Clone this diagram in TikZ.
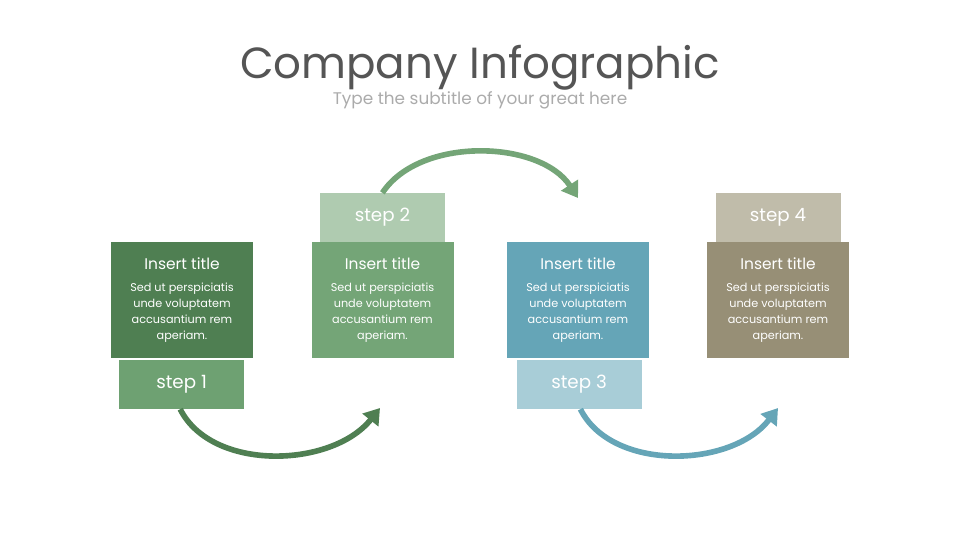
\documentclass[tikz,border=0pt]{standalone}
\usepackage{fontspec}
\setmainfont{Poppins}
\usepackage{tikz}
\usetikzlibrary{arrows.meta, positioning}
\definecolor{colorStepA}{HTML}{4F7F52}
\definecolor{colorStepB}{HTML}{74A577}
\definecolor{colorStepC}{HTML}{65A5B7}
\definecolor{colorStepD}{HTML}{978F76}
\definecolor{colorTabA}{HTML}{6EA172}
\definecolor{colorTabB}{HTML}{AFCBB0}
\definecolor{colorTabC}{HTML}{A8CDD7}
\definecolor{colorTabD}{HTML}{C0BCAA}
\definecolor{colorTitle}{HTML}{555555}
\definecolor{colorSub}{HTML}{ABABAB}
\tikzset{
  card/.style={minimum width=3.55cm, minimum height=2.9cm, inner sep=0pt, text=white, align=center, font=\fontsize{8}{11.5}\selectfont},
  tabbox/.style={minimum width=3.125cm, minimum height=1.225cm, inner sep=0pt, text=white, font=\fontsize{13}{15}\selectfont},
  flow/.style={line width=4pt, -{Triangle[length=11pt, width=14pt]}},
}
\newcommand{\cardtext}{\fontsize{11}{15}\selectfont Insert title\\[4pt]
  \fontsize{8}{11.5}\selectfont Sed ut perspiciatis\\unde voluptatem\\accusantium rem\\aperiam.}

\begin{document}
\begin{tikzpicture}
\useasboundingbox (0,0) rectangle (24,13.5);
\node[text=colorTitle, font=\fontsize{31}{36}\selectfont] (title) at (12,11.8) {Company Infographic};
\node[text=colorSub, font=\fontsize{12}{14}\selectfont] (sub) at (12,11.0) {Type the subtitle of your great here};
% cards
\node[card, fill=colorStepA] (c1) at (4.55,6.0) {\cardtext};
\node[card, fill=colorStepB] (c2) at (9.5625,6.0) {\cardtext};
\node[card, fill=colorStepC] (c3) at (14.45,6.0) {\cardtext};
\node[card, fill=colorStepD] (c4) at (19.45,6.0) {\cardtext};
% tabs
\node[tabbox, fill=colorTabA] (s1) at (4.54,3.89) {step 1};
\node[tabbox, fill=colorTabB] (s2) at (9.56,8.06) {step 2};
\node[tabbox, fill=colorTabC] (s3) at (14.475,3.89) {step 3};
\node[tabbox, fill=colorTabD] (s4) at (19.45,8.06) {step 4};
% arrows
\coordinate (e1) at (9.5,3.3);
\coordinate (e2) at (14.45,8.55);
\coordinate (e3) at (19.45,3.3);
\draw[flow, colorStepA] ([xshift=-1pt]s1.south) .. controls (5.3,1.7) and (8.3,1.8) .. (e1);
\draw[flow, colorStepB] (s2.north) .. controls (10.5,10.1) and (13.5,10.0) .. (e2);
\draw[flow, colorStepC] ([xshift=1pt]s3.south) .. controls (15.3,1.7) and (18.3,1.8) .. (e3);
\end{tikzpicture}
\end{document}
